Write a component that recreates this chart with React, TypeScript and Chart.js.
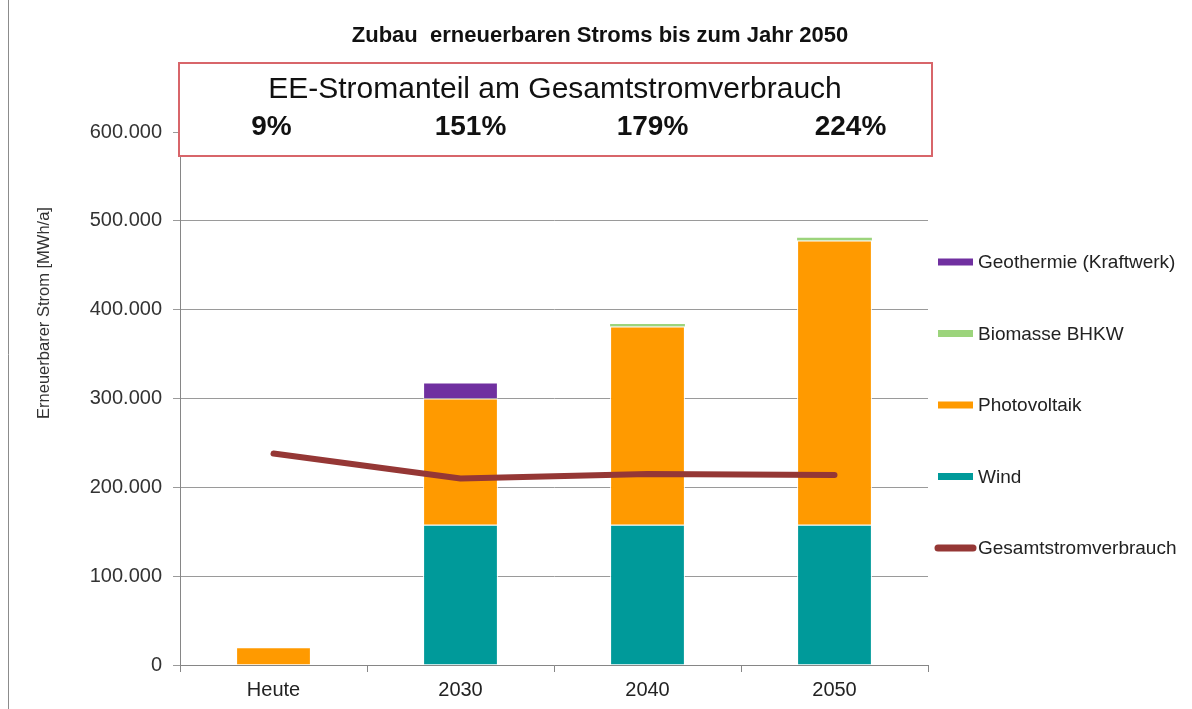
import { useEffect, useRef } from "react";
import { Chart, registerables } from "chart.js";

Chart.register(...registerables);

// Zeitpunkte (Kategorien)
const categories = ["Heute", "2030", "2040", "2050"];

// Erneuerbarer Strom je Quelle [MWh/a]
const wind = [0, 158000, 158000, 158000];
const photovoltaik = [20000, 142000, 223000, 320000];
const biomasseBhkw = [0, 0, 3000, 3000];
const geothermie = [0, 18000, 0, 0];

// Gesamtstromverbrauch [MWh/a]
const gesamtstromverbrauch = [238000, 210000, 215000, 214000];

// EE-Stromanteil am Gesamtstromverbrauch
const eeAnteil = ["9%", "151%", "179%", "224%"];

// Achse
const yMax = 600000;
const yStep = 100000;

const FONT = "'Liberation Sans', Arial, sans-serif";

const formatDe = (v: number) =>
  String(Math.round(v)).replace(/\B(?=(\d{3})+(?!\d))/g, ".");

// Reihenfolge der Legendeneinträge (Index in datasets)
const legendOrder = [3, 2, 1, 0, 4];

const decorPlugin = {
  id: "decor",
  afterDraw(chart: any) {
    const { ctx, scales } = chart;
    const xs = scales.x;
    ctx.save();

    // linker Rahmen
    ctx.strokeStyle = "#8c8c8c";
    ctx.lineWidth = 1;
    ctx.beginPath();
    ctx.moveTo(8.5, 0);
    ctx.lineTo(8.5, chart.height);
    ctx.stroke();

    // Titel
    ctx.fillStyle = "#111";
    ctx.textAlign = "center";
    ctx.textBaseline = "alphabetic";
    ctx.font = `bold 22px ${FONT}`;
    ctx.fillText("Zubau  erneuerbaren Stroms bis zum Jahr 2050", 600, 42);

    // Kasten mit EE-Anteil
    ctx.fillStyle = "#fff";
    ctx.fillRect(179, 63, 753, 93);
    ctx.strokeStyle = "#d8656a";
    ctx.lineWidth = 2;
    ctx.strokeRect(179, 63, 753, 93);

    ctx.fillStyle = "#111";
    ctx.font = `30px ${FONT}`;
    ctx.fillText("EE-Stromanteil am Gesamtstromverbrauch", 555, 98);

    ctx.font = `bold 28px ${FONT}`;
    const shift = [-2, 10, 5, 16];
    eeAnteil.forEach((t, i) => {
      ctx.fillText(t, xs.getPixelForValue(i) + shift[i], 135);
    });

    // y-Achsentitel
    ctx.save();
    ctx.translate(44, 313);
    ctx.rotate(-Math.PI / 2);
    ctx.font = `16.5px ${FONT}`;
    ctx.fillStyle = "#333";
    ctx.textBaseline = "middle";
    ctx.fillText("Erneuerbarer Strom [MWh/a]", 0, 0);
    ctx.restore();

    // Legende
    ctx.font = `19px ${FONT}`;
    ctx.textAlign = "left";
    ctx.textBaseline = "middle";
    legendOrder.forEach((di, k) => {
      const ds = chart.data.datasets[di];
      const cy = 262 + k * 71.5;
      if (ds.type === "line") {
        ctx.strokeStyle = ds.borderColor;
        ctx.lineWidth = 7;
        ctx.lineCap = "round";
        ctx.beginPath();
        ctx.moveTo(938, cy);
        ctx.lineTo(973, cy);
        ctx.stroke();
      } else {
        ctx.fillStyle = ds.backgroundColor;
        ctx.fillRect(938, cy - 3.5, 35, 7);
      }
      ctx.fillStyle = "#222";
      ctx.fillText(ds.label, 978, cy + 1);
    });

    ctx.restore();
  },
};

export default function App() {
  const ref = useRef<HTMLCanvasElement | null>(null);

  useEffect(() => {
    document.body.style.margin = "0";
    const canvas = ref.current;
    if (!canvas) return;

    const barBase = {
      type: "bar" as const,
      stack: "ee",
      order: 1,
      borderColor: "#ffffff",
      borderWidth: 1,
      barPercentage: 0.4,
      categoryPercentage: 1,
    };

    const chart = new Chart(canvas, {
      type: "bar",
      data: {
        labels: categories,
        datasets: [
          { ...barBase, label: "Wind", data: wind, backgroundColor: "#009a9a" },
          { ...barBase, label: "Photovoltaik", data: photovoltaik, backgroundColor: "#ff9a00" },
          { ...barBase, label: "Biomasse BHKW", data: biomasseBhkw, backgroundColor: "#9cd47c", borderWidth: 0 },
          { ...barBase, label: "Geothermie (Kraftwerk)", data: geothermie, backgroundColor: "#7030a0" },
          {
            type: "line",
            label: "Gesamtstromverbrauch",
            data: gesamtstromverbrauch,
            stack: "verbrauch",
            order: 0,
            borderColor: "#953735",
            backgroundColor: "#953735",
            borderWidth: 6,
            borderCapStyle: "round",
            borderJoinStyle: "round",
            pointRadius: 0,
            tension: 0,
            fill: false,
          } as any,
        ],
      },
      options: {
        responsive: false,
        animation: false,
        devicePixelRatio: 1,
        layout: { padding: { top: 132, right: 264, left: 8, bottom: 0 } },
        plugins: {
          legend: { display: false },
          title: { display: false },
          tooltip: { enabled: false },
        },
        scales: {
          x: {
            stacked: true,
            afterFit: (s: any) => {
              s.height = 44;
            },
            border: { color: "#868686", width: 1 },
            grid: {
              display: true,
              drawOnChartArea: false,
              drawTicks: true,
              tickLength: 7,
              offset: true,
              color: "#868686",
            },
            ticks: {
              color: "#222",
              padding: 6,
              font: { family: FONT, size: 20 },
            },
          },
          y: {
            stacked: true,
            min: 0,
            max: yMax,
            afterFit: (s: any) => {
              s.width = 172;
            },
            border: { color: "#868686", width: 1 },
            grid: {
              color: "#9a9a9a",
              tickLength: 7,
              drawTicks: true,
            },
            ticks: {
              stepSize: yStep,
              color: "#333",
              padding: 11,
              font: { family: FONT, size: 20 },
              callback: (v: any) => formatDe(Number(v)),
            },
          },
        },
      },
      plugins: [decorPlugin],
    } as any);

    return () => chart.destroy();
  }, []);

  return (
    <canvas
      ref={ref}
      width={1192}
      height={709}
      style={{ display: "block", width: 1192, height: 709 }}
    />
  );
}
